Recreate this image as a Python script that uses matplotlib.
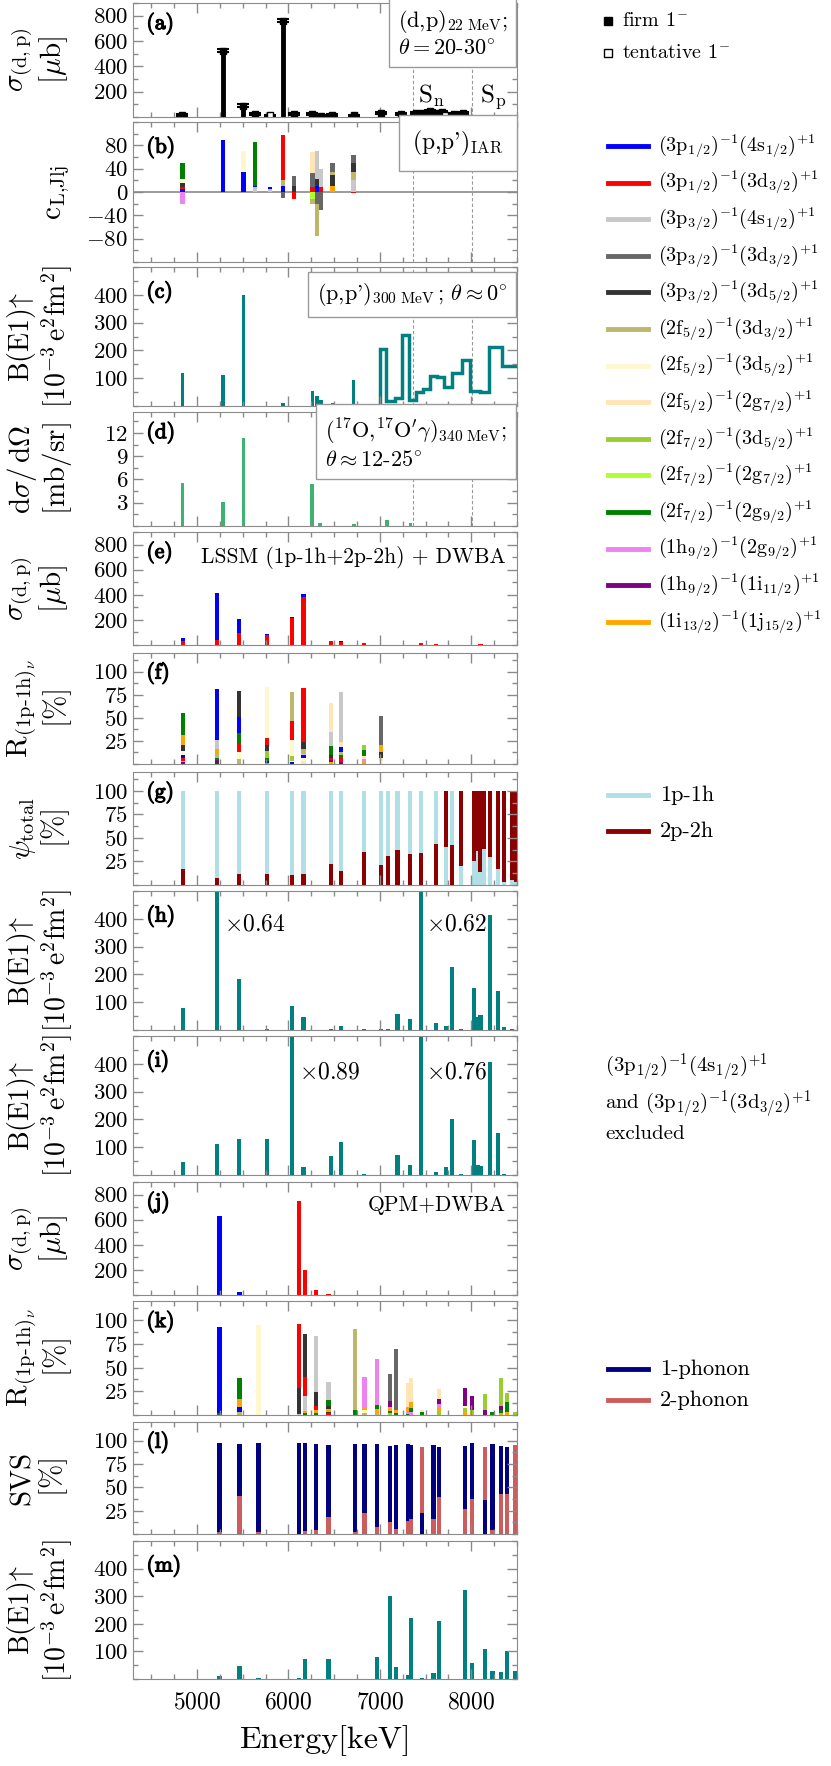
import numpy as np
import matplotlib
matplotlib.use('Agg')
import matplotlib.pyplot as plt
import matplotlib.patheffects as pe
from matplotlib.ticker import MultipleLocator, FixedLocator
from matplotlib.lines import Line2D

plt.rcParams['font.family'] = 'serif'
plt.rcParams['font.serif'] = ['cmr10']
plt.rcParams['mathtext.fontset'] = 'cm'
plt.rcParams['axes.formatter.use_mathtext'] = True

W, H = 831, 1766

# ---- colours of the 1p-1h configurations (legend order)
col = {'b': '#0000ff', 'r': '#ff0000', 'lg': '#c8c8c8', 'dg': '#676767', 'k': '#333333',
       'kh': '#bdb76b', 'ly': '#fff8cf', 'pe': '#ffe4b5', 'yg': '#9acd32', 'gy': '#adff2f',
       'g': '#008000', 'vi': '#ee82ee', 'pu': '#800080', 'or': '#ffa500'}
conf_keys = ['b', 'r', 'lg', 'dg', 'k', 'kh', 'ly', 'pe', 'yg', 'gy', 'g', 'vi', 'pu', 'or']
conf_labels = [r'$(3\mathrm{p}_{1/2})^{\mathrm{-1}}(4\mathrm{s}_{1/2})^{+1}$',
               r'$(3\mathrm{p}_{1/2})^{\mathrm{-1}}(3\mathrm{d}_{3/2})^{+1}$',
               r'$(3\mathrm{p}_{3/2})^{\mathrm{-1}}(4\mathrm{s}_{1/2})^{+1}$',
               r'$(3\mathrm{p}_{3/2})^{\mathrm{-1}}(3\mathrm{d}_{3/2})^{+1}$',
               r'$(3\mathrm{p}_{3/2})^{\mathrm{-1}}(3\mathrm{d}_{5/2})^{+1}$',
               r'$(2\mathrm{f}_{5/2})^{\mathrm{-1}}(3\mathrm{d}_{3/2})^{+1}$',
               r'$(2\mathrm{f}_{5/2})^{\mathrm{-1}}(3\mathrm{d}_{5/2})^{+1}$',
               r'$(2\mathrm{f}_{5/2})^{\mathrm{-1}}(2\mathrm{g}_{7/2})^{+1}$',
               r'$(2\mathrm{f}_{7/2})^{\mathrm{-1}}(3\mathrm{d}_{5/2})^{+1}$',
               r'$(2\mathrm{f}_{7/2})^{\mathrm{-1}}(2\mathrm{g}_{7/2})^{+1}$',
               r'$(2\mathrm{f}_{7/2})^{\mathrm{-1}}(2\mathrm{g}_{9/2})^{+1}$',
               r'$(1\mathrm{h}_{9/2})^{\mathrm{-1}}(2\mathrm{g}_{9/2})^{+1}$',
               r'$(1\mathrm{h}_{9/2})^{\mathrm{-1}}(1\mathrm{i}_{11/2})^{+1}$',
               r'$(1\mathrm{i}_{13/2})^{\mathrm{-1}}(1\mathrm{j}_{15/2})^{+1}$']

Sn, Sp = 7367, 8004

# ---- (a) experiment (d,p)
a_E = [4840, 5282, 5508, 5636, 5939, 6063, 6263, 6355, 6482, 6712, 7012, 7235, 7396, 7430,
       7461, 7552, 7625, 7680, 7808, 7906]
a_val = [18, 523, 90, 20, 761, 25, 22, 10, 17, 12, 35, 25, 30, 10, 35, 45, 35, 40, 20, 28]
a_err = [8, 12, 12, 8, 12, 8, 8, 6, 8, 6, 8, 8, 8, 6, 8, 10, 8, 8, 8, 8]
a_tE = [5800, 7716]
a_tval = [12, 15]

# ---- (b) (p,p') IAR amplitudes, stacked segments (bottom -> top)
b_E = [4842, 5282, 5508, 5636, 5800, 5939, 6063, 6263, 6310, 6355, 6482, 6712]
b_pos = [[('b', 5), ('r', 3), ('k', 8), ('ly', 6), ('g', 28)],
         [('b', 90)],
         [('b', 35), ('ly', 35)],
         [('lg', 8), ('b', 2), ('g', 75)],
         [('lg', 5), ('b', 3)],
         [('b', 10), ('kh', 10), ('r', 78)],
         [('k', 11), ('dg', 16)],
         [('r', 8), ('dg', 24), ('pe', 36)],
         [('b', 10), ('k', 12), ('lg', 48)],
         [('r', 8), ('lg', 32)],
         [('or', 10), ('k', 20), ('kh', 5), ('dg', 15)],
         [('lg', 20), ('kh', 15), ('k', 15), ('dg', 13)]]
b_neg = [[('vi', 20)], [], [], [], [], [('dg', 10)], [('r', 12)], [('gy', 12), ('kh', 8)],
         [('dg', 20), ('kh', 55)], [('dg', 30)], [], [('r', 2)]]

# ---- (c) (p,p') B(E1)
c_E = [4840, 5282, 5508, 5939, 6263, 6310, 6355, 6482, 6712]
c_val = [118, 110, 398, 12, 55, 35, 22, 12, 95]
c_edges = [7000, 7070, 7169, 7242, 7315, 7399, 7472, 7552, 7625, 7698, 7790, 7899, 7990,
           8100, 8191, 8337, 8560]
c_step = [205, 18, 30, 255, 22, 52, 60, 108, 104, 70, 120, 165, 55, 52, 213, 145]

# ---- (d) (17O,17O'g)
d_E = [4840, 5282, 5508, 6256, 6347, 6719, 7077, 7334]
d_val = [5.6, 3.1, 11.4, 5.4, 0.45, 0.3, 0.8, 0.4]

# ---- (e) LSSM (d,p)
e_E = [4847, 5216, 5461, 5764, 6038, 6165, 6465, 6578, 6830, 7016, 7194, 7454, 7618, 7727, 7884, 8100]
e_red = [30, 40, 95, 80, 215, 385, 30, 20, 14, 3, 3, 12, 4, 3, 3, 4]
e_blue = [25, 373, 110, 7, 8, 18, 0, 13, 0, 0, 0, 0, 0, 0, 0, 0]

# ---- (f) LSSM 1p-1h composition
f_E = [4847, 5216, 5461, 5764, 6038, 6165, 6465, 6578, 6830, 7016]
f_segs = [[('pu', 2), ('vi', 1.5), ('r', 3.5), ('b', 3), ('ly', 4), ('k', 7), ('or', 10.5), ('g', 23.5)],
          [('k', 2), ('pu', 2), ('g', 3), ('kh', 4), ('or', 5), ('lg', 10), ('b', 55)],
          [('kh', 5), ('ly', 8), ('r', 10), ('g', 11), ('b', 17), ('k', 28)],
          [('or', 1.5), ('b', 2), ('g', 3.5), ('yg', 7), ('k', 7), ('r', 7), ('ly', 55)],
          [('b', 2), ('ly', 1.5), ('yg', 5.5), ('ly', 17), ('r', 20), ('kh', 32)],
          [('pe', 3), ('ly', 3), ('b', 4), ('lg', 1), ('kh', 5), ('k', 7.5), ('r', 58.5)],
          [('or', 2), ('pu', 2), ('r', 3), ('k', 3), ('g', 9), ('lg', 16), ('pe', 31)],
          [('pu', 2.5), ('r', 3.5), ('g', 3.5), ('kh', 3.5), ('b', 5), ('pe', 6), ('lg', 54)],
          [('or', 2.5), ('vi', 2.5), ('pe', 4), ('g', 6), ('yg', 6)],
          [('ly', 3), ('pe', 3), ('k', 7), ('or', 7), ('dg', 32)]]

# ---- (g) LSSM psi_total: lower segment value and which component is at the bottom
g_E = [4847, 5216, 5461, 5764, 6038, 6165, 6465, 6578, 6830, 7016, 7085, 7194, 7333, 7454,
       7618, 7727, 7790, 7884, 8034, 8070, 8100, 8136, 8209, 8289, 8362, 8447, 8490]
g_low = [17, 7, 12, 12, 11, 12, 22, 15, 35, 21, 31, 37, 33, 34, 44, 40, 42, 20, 26, 36, 14,
         38, 30, 17, 3, 5, 3]
g_low_2p2h = [True] * 15 + [False, True] + [False] * 10

# ---- (h),(i) LSSM B(E1)
hi_E = [4847, 5216, 5461, 5764, 6038, 6165, 6465, 6578, 6830, 7016, 7085, 7194, 7333, 7454,
        7618, 7727, 7790, 7884, 8034, 8070, 8100, 8209, 8289, 8362, 8447]
h_val = [78, 800, 185, 4, 88, 46, 5, 15, 3, 3, 2, 57, 40, 800, 24, 15, 225, 3, 150, 48, 55,
         415, 140, 10, 2]
i_val = [47, 112, 131, 131, 800, 29, 69, 117, 3, 1, 1, 72, 35, 800, 10, 30, 200, 2, 125, 35,
         32, 405, 152, 5, 1]

# ---- (j) QPM (d,p)
j_E = [5245, 5464, 6118, 6183, 6304, 6439]
j_val = [629, 21, 746, 203, 42, 8]
j_key = ['b', 'b', 'r', 'r', 'r', 'r']

# ---- (k) QPM 1p-1h composition
k_E = [5245, 5464, 5672, 6118, 6183, 6304, 6439, 6724, 6833, 6968, 7107, 7180, 7304, 7344,
       7461, 7651, 7928, 8009, 8147, 8231, 8326, 8392, 8483]
k_segs = [[('g', 2), ('b', 91)],
          [('kh', 3.5), ('b', 5), ('or', 8.5), ('g', 22)],
          [('ly', 95)],
          [('lg', 1), ('k', 27), ('r', 68)],
          [('g', 2.5), ('or', 1.5), ('lg', 16), ('r', 20), ('k', 45)],
          [('g', 2), ('or', 3), ('r', 5), ('k', 14), ('lg', 59)],
          [('r', 2), ('k', 1.5), ('or', 2.5), ('k', 3.5), ('g', 6.5), ('lg', 19)],
          [('g', 5), ('kh', 86)],
          [('kh', 2.5), ('ly', 2.5), ('or', 3), ('vi', 32)],
          [('kh', 2.5), ('or', 3.5), ('g', 4.5), ('vi', 48.5)],
          [('kh', 2), ('g', 2), ('or', 4), ('pu', 7), ('dg', 28)],
          [('g', 2), ('or', 3), ('dg', 64)],
          [('g', 1.5), ('vi', 2), ('or', 4.5), ('pe', 26)],
          [('vi', 3.5), ('g', 3.5), ('or', 7), ('pe', 25)],
          [('g', 3), ('pe', 2)],
          [('yg', 4.5), ('or', 3.5), ('vi', 3.5), ('pu', 5.5), ('pe', 10)],
          [('or', 4), ('yg', 3), ('ly', 3), ('pu', 18)],
          [('or', 2), ('yg', 3), ('pu', 15)],
          [('pu', 5), ('yg', 17)],
          [('g', 3)],
          [('or', 2), ('g', 3), ('pu', 5), ('yg', 29)],
          [('or', 3), ('g', 11), ('yg', 9)],
          [('yg', 3)]]

# ---- (l) QPM structure of the wave function
l_E = [5245, 5464, 5672, 6118, 6183, 6304, 6439, 6724, 6833, 6968, 7107, 7180, 7304, 7344,
       7461, 7587, 7651, 7928, 8009, 8147, 8231, 8326, 8392, 8483]
l_low = [2, 41, 2, 0.5, 3, 4, 18, 2, 22, 8, 13, 5, 14, 16, 23, 16, 40, 27, 38, 36, 4, 43, 43, 95]
l_tot = [98, 96, 97, 97, 97, 96, 95, 96, 96, 96, 94, 95, 96, 95, 93, 95, 93, 94, 97, 93, 96,
         94, 93, 95]
l_low_2ph = [True] * 14 + [False] + [True] * 4 + [False] + [True] * 4

# ---- (m) QPM B(E1)
m_val = [12, 48, 5, 3, 72, 1, 72, 1, 1, 78, 301, 45, 16, 222, 2, 20, 211, 322, 57, 108, 28,
         26, 100, 30]

TEAL = '#008080'
GRAY = '#8a8a8a'
BW = 46

spans = [(3, 117), (122, 262), (267, 406), (412, 526), (532, 645), (653, 764), (772, 885),
         (891, 1030), (1036, 1175), (1182, 1295), (1301, 1415), (1422, 1534), (1541, 1679)]

fig = plt.figure(figsize=(W / 100, H / 100), dpi=100)
axes = []
for top, bot in spans:
    axes.append(fig.add_axes([133 / W, 1 - bot / H, 384 / W, (bot - top) / H]))

bold = [pe.withStroke(linewidth=0.9, foreground='k')]


def setup(ax, ylim, ticks, minor, letter, ylabel, labx=-0.243, labsize=21):
    ax.set_xlim(4300, 8500)
    ax.set_ylim(*ylim)
    ax.xaxis.set_major_locator(MultipleLocator(1000))
    ax.xaxis.set_minor_locator(MultipleLocator(250))
    ax.yaxis.set_major_locator(FixedLocator(ticks))
    ax.yaxis.set_minor_locator(MultipleLocator(minor))
    ax.tick_params(which='both', direction='in', top=True, right=True, color=GRAY, labelsize=16.5)
    ax.tick_params(which='major', length=7, width=1)
    ax.tick_params(which='minor', length=3.5, width=1)
    ax.tick_params(axis='x', labelbottom=False)
    for s in ax.spines.values():
        s.set_color(GRAY)
    ax.text(0.035, 0.82, '(' + letter + ')', transform=ax.transAxes,
            fontsize=15.5, va='center', ha='left', path_effects=bold)
    ax.set_ylabel(ylabel, fontsize=labsize, ha='center', va='center', linespacing=1.05)
    ax.yaxis.set_label_coords(labx, 0.5)


def stack(ax, E, segs, sign=1, w=BW):
    base = 0
    for key, h in segs:
        ax.bar(E, sign * h, bottom=base, width=w, color=col[key], linewidth=0)
        base += sign * h


lab_sig = r'$\sigma_{\rm (d,p)}$' + '\n' + r'$[\mu\mathrm{b}]$'
lab_be1 = r'$\mathrm{B(E1)}\!\uparrow$' + '\n' + r'$[10^{-3}\,\mathrm{e}^2\mathrm{fm}^2]$'
lab_R = r'$\mathrm{R}_{\mathrm{(1p}\text{-}\mathrm{1h)}_\nu}$' + '\n' + r'$[\%]$'
box = dict(boxstyle='square,pad=0.4', fc='white', ec='#9a9a9a', lw=1)
dash = dict(color='#999999', lw=0.8, ls=(0, (3, 2)), zorder=0)

# (a)
ax = axes[0]
setup(ax, (0, 900), [200, 400, 600, 800], 100, 'a', lab_sig)
ax.vlines(a_E, 0, a_val, color='k', lw=3.5)
ax.errorbar(a_E, a_val, yerr=a_err, fmt='s', color='k', ms=5, capsize=4, elinewidth=1.5, capthick=1.5)
ax.vlines(a_tE, 0, a_tval, color='k', lw=1)
ax.errorbar(a_tE, a_tval, yerr=6, fmt='s', color='k', mfc='white', ms=5, capsize=4, elinewidth=1.5, capthick=1.5)
for s in (Sn, Sp):
    ax.axvline(s, **dash)
ax.text(7420, 165, r'$\mathrm{S_n}$', fontsize=18, va='center')
ax.text(8095, 165, r'$\mathrm{S_p}$', fontsize=18, va='center')
ax.text(0.975, 0.955, '(d,p)' + r'$_{\rm 22\ MeV}$;' + '\n' + r'$\theta=20\text{-}30^{\circ}$',
        transform=ax.transAxes, ha='right', va='top', fontsize=16, bbox=box, zorder=5,
        multialignment='left')

# (b)
ax = axes[1]
setup(ax, (-120, 120), [-80, -40, 0, 40, 80], 20, 'b', r'$\mathrm{c}_{\text{L,Jlj}}$', labx=-0.195)
ax.axhline(0, color='#8a8a8a', lw=1.2, zorder=0)
for E, p, n in zip(b_E, b_pos, b_neg):
    stack(ax, E, p, 1)
    stack(ax, E, n, -1)
for s in (Sn, Sp):
    ax.axvline(s, **dash)
ax.text(0.965, 0.85, "(p,p')" + r"$_{\rm IAR}$", transform=ax.transAxes, ha='right',
        va='center', fontsize=17, bbox=dict(boxstyle='square,pad=0.55', fc='white', ec='#9a9a9a'), zorder=5)

# (c)
ax = axes[2]
setup(ax, (0, 500), [100, 200, 300, 400], 50, 'c', lab_be1, labsize=20)
ax.bar(c_E, c_val, width=38, color=TEAL, linewidth=0)
ax.stairs(c_step, c_edges, baseline=0, color=TEAL, lw=2.5)
for s in (Sn, Sp):
    ax.axvline(s, **dash)
ax.text(0.975, 0.9, "(p,p')" + r"$_{\rm 300\ MeV}\,;\,\theta\approx0^{\circ}$",
        transform=ax.transAxes, ha='right', va='top', fontsize=16, bbox=box, zorder=5)

# (d)
ax = axes[3]
setup(ax, (0, 14.7), [3, 6, 9, 12], 1.5, 'd',
      r'$\mathrm{d}\sigma/\,\mathrm{d}\Omega$' + '\n' + r'$[\mathrm{mb/sr}]$')
ax.bar(d_E, d_val, width=38, color='#3cb371', linewidth=0)
for s in (Sn, Sp):
    ax.axvline(s, **dash)
ax.text(0.975, 0.955, r"$(^{17}\mathrm{O},\!^{17}\mathrm{O}'\gamma)_{\rm 340\ MeV};$" + '\n' +
        r'$\theta\approx12\text{-}25^{\circ}$', transform=ax.transAxes, ha='right', va='top',
        fontsize=16, bbox=box, zorder=5, multialignment='left')

# (e)
ax = axes[4]
setup(ax, (0, 900), [200, 400, 600, 800], 100, 'e', lab_sig)
ax.bar(e_E, e_red, width=BW, color=col['r'], linewidth=0)
ax.bar(e_E, e_blue, bottom=e_red, width=BW, color=col['b'], linewidth=0)
ax.text(0.97, 0.77, 'LSSM (1p-1h+2p-2h) + DWBA', transform=ax.transAxes, ha='right',
        va='center', fontsize=15.5)

# (f)
ax = axes[5]
setup(ax, (0, 120), [25, 50, 75, 100], 12.5, 'f', lab_R)
for E, s in zip(f_E, f_segs):
    stack(ax, E, s)

# (g)
ax = axes[6]
setup(ax, (0, 120), [25, 50, 75, 100], 12.5, 'g', r'$\psi_{\rm total}$' + '\n' + r'$[\%]$')
for E, lo, flag in zip(g_E, g_low, g_low_2p2h):
    c_lo, c_hi = ('#8b0000', '#b0e0e6') if flag else ('#b0e0e6', '#8b0000')
    ax.bar(E, lo, width=BW, color=c_lo, linewidth=0)
    ax.bar(E, 100 - lo, bottom=lo, width=BW, color=c_hi, linewidth=0)

# (h)
ax = axes[7]
setup(ax, (0, 500), [100, 200, 300, 400], 50, 'h', lab_be1, labsize=20)
ax.bar(hi_E, h_val, width=BW, color=TEAL, linewidth=0)
ax.text(5300, 378, r'$\times0.64$', fontsize=17, va='center')
ax.text(7505, 378, r'$\times0.62$', fontsize=17, va='center')

# (i)
ax = axes[8]
setup(ax, (0, 500), [100, 200, 300, 400], 50, 'i', lab_be1, labsize=20)
ax.bar(hi_E, i_val, width=BW, color=TEAL, linewidth=0)
ax.text(6115, 370, r'$\times0.89$', fontsize=17, va='center')
ax.text(7505, 370, r'$\times0.76$', fontsize=17, va='center')

# (j)
ax = axes[9]
setup(ax, (0, 900), [200, 400, 600, 800], 100, 'j', lab_sig)
ax.bar(j_E, j_val, width=BW, color=[col[k] for k in j_key], linewidth=0)
ax.text(0.97, 0.79, 'QPM+DWBA', transform=ax.transAxes, ha='right', va='center', fontsize=15.5)

# (k)
ax = axes[10]
setup(ax, (0, 120), [25, 50, 75, 100], 12.5, 'k', lab_R)
for E, s in zip(k_E, k_segs):
    stack(ax, E, s)

# (l)
ax = axes[11]
setup(ax, (0, 120), [25, 50, 75, 100], 12.5, 'l', 'SVS\n' + r'$[\%]$')
for E, lo, tot, flag in zip(l_E, l_low, l_tot, l_low_2ph):
    c_lo, c_hi = ('#cd5c5c', '#000080') if flag else ('#000080', '#cd5c5c')
    ax.bar(E, lo, width=BW, color=c_lo, linewidth=0)
    ax.bar(E, tot - lo, bottom=lo, width=BW, color=c_hi, linewidth=0)

# (m)
ax = axes[12]
setup(ax, (0, 500), [100, 200, 300, 400], 50, 'm', lab_be1, labsize=20)
ax.bar(l_E, m_val, width=BW, color=TEAL, linewidth=0)
ax.tick_params(axis='x', labelbottom=True, labelsize=17, pad=9)
ax.set_xlabel('Energy[keV]', fontsize=23, labelpad=8)

# ---- legends on the right
def fy(py):
    return 1 - py / H


fig.add_artist(Line2D([608 / W], [fy(21)], marker='s', color='k', ms=5.5, ls='none'))
fig.text(622 / W, fy(21), r'firm $1^{-}$', fontsize=14.5, va='center')
fig.add_artist(Line2D([608 / W], [fy(53)], marker='s', color='k', mfc='white', ms=5.5, ls='none'))
fig.text(622 / W, fy(53), r'tentative $1^{-}$', fontsize=14.5, va='center')

for n, (key, lab) in enumerate(zip(conf_keys, conf_labels)):
    y = 146 + n * 36.6
    fig.add_artist(Line2D([608 / W, 648 / W], [fy(y)] * 2, color=col[key], lw=3.5))
    fig.text(658 / W, fy(y), lab, fontsize=14.5, va='center')

for y, c, lab in [(795, '#b0e0e6', '1p-1h'), (831, '#8b0000', '2p-2h'),
                  (1369, '#000080', '1-phonon'), (1400, '#cd5c5c', '2-phonon')]:
    fig.add_artist(Line2D([608 / W, 648 / W], [fy(y)] * 2, color=c, lw=3.5))
    fig.text(660 / W, fy(y), lab, fontsize=16, va='center')

fig.text(605 / W, fy(1097), r'$(3\mathrm{p}_{1/2})^{\mathrm{-1}}(4\mathrm{s}_{1/2})^{+1}$' + '\n' +
         r'and $(3\mathrm{p}_{1/2})^{\mathrm{-1}}(3\mathrm{d}_{3/2})^{+1}$' + '\n' + 'excluded',
         fontsize=15, va='center', ha='left', linespacing=1.25)

fig.savefig('out.png', dpi=100)
